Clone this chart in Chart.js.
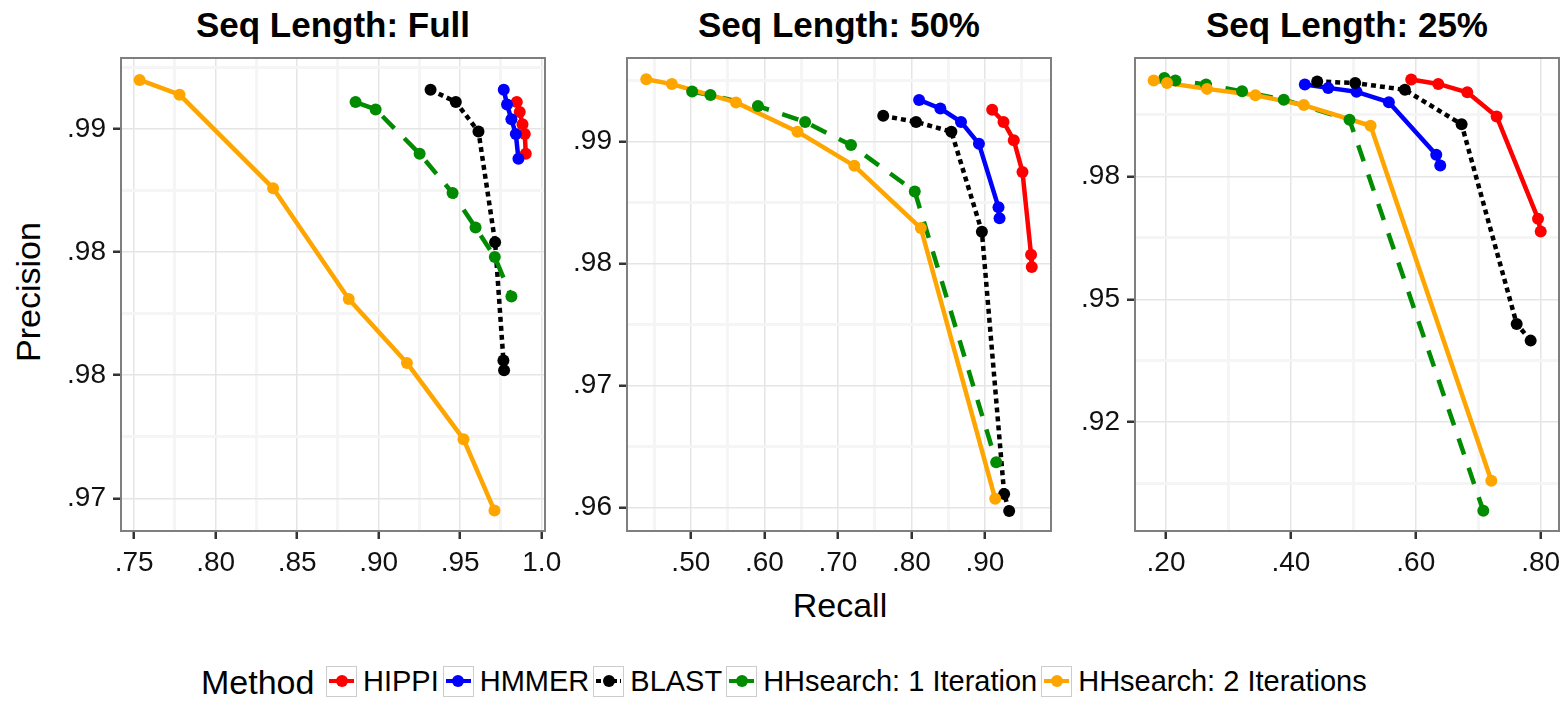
<!DOCTYPE html>
<html>
<head>
<meta charset="utf-8">
<script src="https://cdn.jsdelivr.net/npm/chart.js@4.4.1/dist/chart.umd.min.js"></script>
<style>
    body { margin: 0; background: #fff; width: 1568px; height: 701px; position: relative; overflow: hidden;
           font-family: "Liberation Sans", Arial, Helvetica, sans-serif; color: #000; }
    canvas { position: absolute; top: 50px; }
    .title { position: absolute; top: 7px; width: 424px; text-align: center; font-weight: bold; font-size: 35px; line-height: 1; white-space: nowrap; }
    .axis-title { position: absolute; font-size: 34px; line-height: 1; white-space: nowrap; text-align: center; }
    #legend { position: absolute; left: 326px; top: 665px; height: 32px; display: flex; align-items: center; }
    .key { position: relative; width: 29px; height: 29px; border: 1.5px solid #cccccc; background: #fff; margin-right: 6px; }
    .key .ln { position: absolute; left: 2px; right: 2px; top: 12.5px; height: 4px; }
    .key .dot { position: absolute; left: 8.5px; top: 8.5px; width: 12px; height: 12px; border-radius: 50%; }
    .lab { font-size: 29px; line-height: 1; margin-right: 4px; white-space: nowrap; }
</style>
</head>
<body>

<div class="title" style="left:121px">Seq Length: Full</div>
<div class="title" style="left:627px">Seq Length: 50%</div>
<div class="title" style="left:1135px">Seq Length: 25%</div>

<div class="axis-title" style="left:-122px; top:275px; width:300px; transform: rotate(-90deg);">Precision</div>
<div class="axis-title" style="left:690px; top:588px; width:300px;">Recall</div>

<div class="axis-title" style="left:201px; top:665px; font-size:34px; text-align:left;">Method</div>
<div id="legend"></div>

<canvas id="panel0" width="564" height="530"></canvas>
<canvas id="panel1" width="564" height="530"></canvas>
<canvas id="panel2" width="564" height="530"></canvas>

<script>
// Methods, in legend order
const methods = ['HIPPI', 'HMMER', 'BLAST', 'HHsearch: 1 Iteration', 'HHsearch: 2 Iterations'];

// Seq Length: Full  (one sub-array per method)
const recallFull = [
    [0.9847, 0.9865, 0.9882, 0.9896, 0.9902],
    [0.9767, 0.9787, 0.9814, 0.9841, 0.9857],
    [0.9318, 0.9473, 0.9612, 0.9714, 0.9765, 0.9769],
    [0.8858, 0.8981, 0.9251, 0.9453, 0.9594, 0.9712, 0.9814],
    [0.7533, 0.7778, 0.8352, 0.8816, 0.9173, 0.9520, 0.9710]
];
const precisionFull = [
    [0.9911, 0.9907, 0.9902, 0.9898, 0.9890],
    [0.9916, 0.9910, 0.9904, 0.9898, 0.9888],
    [0.9916, 0.9911, 0.9899, 0.9854, 0.9806, 0.9802],
    [0.9911, 0.9908, 0.9890, 0.9874, 0.9860, 0.9848, 0.9832],
    [0.9920, 0.9914, 0.9876, 0.9831, 0.9805, 0.9774, 0.9745]
];

// Seq Length: 50%
const recall50 = [
    [0.9099, 0.9253, 0.9393, 0.9511, 0.9628, 0.9637],
    [0.8105, 0.8394, 0.8675, 0.8919, 0.9185, 0.9199],
    [0.7617, 0.8064, 0.8544, 0.8959, 0.9262, 0.9330],
    [0.5018, 0.5267, 0.5913, 0.6555, 0.7179, 0.8046, 0.9154],
    [0.4394, 0.4742, 0.5615, 0.6451, 0.7224, 0.8128, 0.9140]
];
const precision50 = [
    [0.9926, 0.9916, 0.9901, 0.9875, 0.9807, 0.9797],
    [0.9934, 0.9927, 0.9916, 0.9898, 0.9846, 0.9837],
    [0.9921, 0.9916, 0.9908, 0.9826, 0.9611, 0.9597],
    [0.9941, 0.9938, 0.9929, 0.9916, 0.9897, 0.9859, 0.9637],
    [0.9951, 0.9947, 0.9932, 0.9908, 0.9880, 0.9829, 0.9607]
];

// Seq Length: 25%
const recall25 = [
    [0.5927, 0.6360, 0.6825, 0.7295, 0.7958, 0.8001],
    [0.4223, 0.4597, 0.5051, 0.5569, 0.6328, 0.6392],
    [0.4421, 0.5030, 0.5826, 0.6734, 0.7616, 0.7840],
    [0.1973, 0.2150, 0.2641, 0.3218, 0.3886, 0.4939, 0.7082],
    [0.1802, 0.2016, 0.2657, 0.3432, 0.4207, 0.5276, 0.7210]
];
const precision25 = [
    [0.9947, 0.9938, 0.9921, 0.9872, 0.9664, 0.9638],
    [0.9937, 0.9930, 0.9922, 0.9901, 0.9794, 0.9772],
    [0.9943, 0.9940, 0.9926, 0.9856, 0.9450, 0.9416],
    [0.9950, 0.9945, 0.9937, 0.9923, 0.9906, 0.9865, 0.9070],
    [0.9945, 0.9940, 0.9928, 0.9915, 0.9895, 0.9853, 0.9131]
];

// Tick values and labels
const xTicksFull = [0.75, 0.80, 0.85, 0.90, 0.95, 1.0];
const xLabelsFull = ['.75', '.80', '.85', '.90', '.95', '1.0'];
const yTicksFull = [0.975, 0.980, 0.985, 0.990];
const yLabelsFull = ['.97', '.98', '.98', '.99'];

const xTicks50 = [0.5, 0.6, 0.7, 0.8, 0.9];
const xLabels50 = ['.50', '.60', '.70', '.80', '.90'];
const yTicks50 = [0.96, 0.97, 0.98, 0.99];
const yLabels50 = ['.96', '.97', '.98', '.99'];

const xTicks25 = [0.2, 0.4, 0.6, 0.8];
const xLabels25 = ['.20', '.40', '.60', '.80'];
const yTicks25 = [0.925, 0.950, 0.975];
const yLabels25 = ['.92', '.95', '.98'];

// styles
const colors = ['#ff0000', '#0000ff', '#000000', '#008b00', '#ffa500'];
const dashes = [[], [], [5, 4], [17, 14], []];
const fontFamily = '"Liberation Sans", Arial, Helvetica, sans-serif';

/**
 * Major ticks from the arrays, plus minor ticks half way between them
 */
function makeTicks(major, min, max) {
    const step = major[1] - major[0];
    const ticks = [];
    const first = major[0] - step / 2;
    for (let i = 0; i <= major.length; i++) {
        const minor = first + i * step;
        if (minor > min && minor < max) ticks.push({ value: minor, isMajor: false });
        if (i < major.length) ticks.push({ value: major[i], isMajor: true });
    }
    return ticks;
}

function axisOptions(major, labels, min, max, isX) {
    return {
        type: 'linear',
        min: min,
        max: max,
        afterBuildTicks: scale => { scale.ticks = makeTicks(major, min, max); },
        afterFit: scale => {
            if (isX) scale.height = 49; else scale.width = 110;
            scale.paddingLeft = 0; scale.paddingRight = 0;
            scale.paddingTop = 0; scale.paddingBottom = 0;
        },
        border: { display: false },
        grid: {
            color: ctx => ctx.tick && ctx.tick.isMajor ? '#e5e5e5' : '#f5f5f5',
            lineWidth: ctx => ctx.tick && ctx.tick.isMajor ? 1.5 : 3,
            drawTicks: true,
            tickLength: 8,
            tickWidth: 2.5,
            tickColor: ctx => ctx.tick && ctx.tick.isMajor ? '#333333' : 'rgba(0,0,0,0)'
        },
        ticks: {
            autoSkip: false,
            maxRotation: 0,
            padding: 7,
            color: '#111111',
            font: { family: fontFamily, size: 28 },
            callback: (value, index, ticks) => {
                if (!ticks[index].isMajor) return '';
                const k = major.findIndex(v => Math.abs(v - value) < 1e-9);
                return k >= 0 ? labels[k] : '';
            }
        }
    };
}

function buildDatasets(recall, precision) {
    const sets = [];
    methods.forEach((m, g) => {
        const pts = recall[g].map((x, i) => ({ x: x, y: precision[g][i] }));
        // line layer
        sets.push({
            label: m,
            data: pts,
            showLine: true,
            fill: false,
            borderColor: colors[g],
            borderWidth: 4.5,
            borderDash: dashes[g],
            borderCapStyle: 'butt',
            borderJoinStyle: 'round',
            pointRadius: 0,
            order: 10 + (4 - g)
        });
        // point layer, drawn above every line
        sets.push({
            label: m,
            data: pts,
            showLine: false,
            backgroundColor: colors[g],
            borderColor: colors[g],
            pointRadius: 6,
            pointBorderWidth: 0,
            order: 4 - g
        });
    });
    return sets;
}

// grey frame around each panel
const panelBorder = {
    id: 'panelBorder',
    afterDatasetsDraw(chart) {
        const a = chart.chartArea;
        const ctx = chart.ctx;
        ctx.save();
        ctx.strokeStyle = '#7f7f7f';
        ctx.lineWidth = 2;
        ctx.strokeRect(a.left, a.top, a.right - a.left, a.bottom - a.top);
        ctx.restore();
    }
};

function makePanel(id, left, recall, precision, xMaj, xLab, xMin, xMax, yMaj, yLab, yMin, yMax) {
    const el = document.getElementById(id);
    el.style.left = (left - 110) + 'px';
    new Chart(el, {
        type: 'scatter',
        data: { datasets: buildDatasets(recall, precision) },
        options: {
            responsive: false,
            animation: false,
            layout: { padding: { top: 8, right: 30, left: 0, bottom: 0 } },
            plugins: { legend: { display: false }, tooltip: { enabled: false } },
            scales: {
                x: axisOptions(xMaj, xLab, xMin, xMax, true),
                y: axisOptions(yMaj, yLab, yMin, yMax, false)
            }
        },
        plugins: [panelBorder]
    });
}

makePanel('panel0', 121, recallFull, precisionFull, xTicksFull, xLabelsFull, 0.7419, 1.002, yTicksFull, yLabelsFull, 0.97367, 0.99289);
makePanel('panel1', 627, recall50, precision50, xTicks50, xLabels50, 0.4132, 0.9899, yTicks50, yLabels50, 0.95806, 0.99684);
makePanel('panel2', 1135, recall25, precision25, xTicks25, xLabels25, 0.1503, 0.8294, yTicks25, yLabels25, 0.90288, 0.99908);

// Legend
const legend = document.getElementById('legend');
methods.forEach((m, g) => {
    const key = document.createElement('div');
    key.className = 'key';
    const ln = document.createElement('div');
    ln.className = 'ln';
    if (g === 2) {
        ln.style.background = 'repeating-linear-gradient(90deg, #000 0 4.5px, transparent 4.5px 8px)';
    } else {
        ln.style.background = colors[g];
    }
    const dot = document.createElement('div');
    dot.className = 'dot';
    dot.style.background = colors[g];
    key.appendChild(ln);
    key.appendChild(dot);
    const lab = document.createElement('span');
    lab.className = 'lab';
    lab.textContent = m;
    legend.appendChild(key);
    legend.appendChild(lab);
});
</script>
</body>
</html>
